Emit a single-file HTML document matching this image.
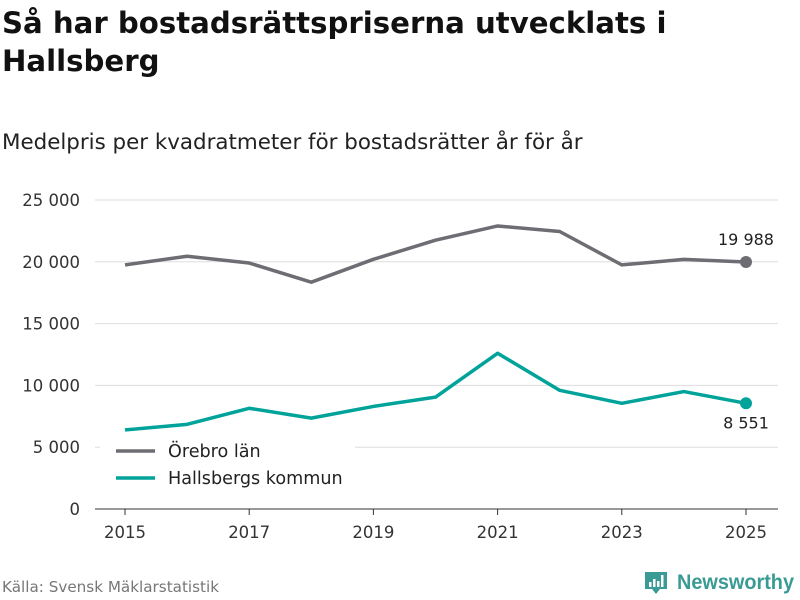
<!DOCTYPE html>
<html><head><meta charset="utf-8"><style>
body{margin:0;width:800px;height:600px;background:#fff;font-family:"DejaVu Sans","Liberation Sans",sans-serif;overflow:hidden;position:relative}
h1{position:absolute;left:2px;top:4px;margin:0;font-size:29.2px;line-height:38px;font-weight:bold;color:#111}
.sub{position:absolute;left:2px;top:130px;font-size:21.4px;color:#222}
.src{position:absolute;left:2px;top:578px;font-size:15.2px;color:#777}
</style></head><body>
<h1>Så har bostadsrättspriserna utvecklats i<br>Hallsberg</h1>
<div class="sub">Medelpris per kvadratmeter för bostadsrätter år för år</div>
<div class="src">Källa: Svensk Mäklarstatistik</div>
<svg width="800" height="600" style="position:absolute;left:0;top:0" id="c">
<g id="logo">
<path d="M645 572h22v17h-7l-4 5-4-5h-7z" fill="#3a9b94"/>
<rect x="649" y="582" width="2.5" height="5" fill="#fff"/><rect x="653" y="579" width="2.5" height="8" fill="#fff"/><rect x="657" y="581" width="2.5" height="6" fill="#fff"/><rect x="661" y="575" width="2.5" height="12" fill="#fff"/>
<text x="677" y="589" font-size="21" font-weight="bold" fill="#3a9b94" textLength="117" lengthAdjust="spacingAndGlyphs" font-family="Liberation Sans,sans-serif">Newsworthy</text>
</g>
</svg>
<script>
const years=[2015,2016,2017,2018,2019,2020,2021,2022,2023,2024,2025];
const orebro=[19750,20450,19900,18350,20200,21750,22900,22450,19750,20200,19988];
const hallsberg=[6400,6850,8150,7350,8300,9050,12600,9600,8550,9500,8551];
const yTicks=[0,5000,10000,15000,20000,25000];
const xTicks=[2015,2017,2019,2021,2023,2025];
const svg=document.getElementById('c');const NS='http://www.w3.org/2000/svg';
const x=v=>125+(v-2015)*62.1, y=v=>509-v*309/25000;
function el(t,a,p){const e=document.createElementNS(NS,t);for(const k in a)e.setAttribute(k,a[k]);(p||svg).appendChild(e);return e;}
const fmt=v=>v>=1000?Math.floor(v/1000)+' '+String(v%1000).padStart(3,'0'):String(v);
yTicks.forEach(v=>{
 const l=el('line',{x1:95,x2:778,y1:y(v),y2:y(v),stroke:v?'#ddd':'#333','stroke-width':1});
 
 
 const t=el('text',{x:80,y:y(v)+6,'text-anchor':'end','font-size':16.5,fill:'#333'});t.textContent=fmt(v);
 
 
});
xTicks.forEach(v=>{
 const k=el('line',{x1:x(v),x2:x(v),y1:509,y2:515,stroke:'#333'});
 
 
 const t=el('text',{x:x(v),y:538,'text-anchor':'middle','font-size':16.5,fill:'#333'});t.textContent=v;
 
 
});
function series(d,c,name,dy){
 const p=el('polyline',{points:d.map((v,i)=>x(years[i])+','+y(v)).join(' '),fill:'none',stroke:c,'stroke-width':3.5,'stroke-linejoin':'round'});
 
 
 const n=d.length-1;
 const ci=el('circle',{cx:x(years[n]),cy:y(d[n]),r:6,fill:c});
 
 
 const t=el('text',{x:x(years[n]),y:y(d[n])+dy,'text-anchor':'middle','font-size':16,fill:'#222'});t.textContent=fmt(d[n]);
 
 
}
series(orebro,'#6e6d74','orebro',-17);
series(hallsberg,'#00a39a','hallsberg',25);
const lg=el('g',{});


el('rect',{x:100,y:436,width:255,height:60,fill:'#fff'},lg);
[['Örebro län','#6e6d74',451],['Hallsbergs kommun','#00a39a',478]].forEach(([n,c,yy])=>{
 const g=el('g',{},lg);
 
 
 el('line',{x1:116,x2:155,y1:yy,y2:yy,stroke:c,'stroke-width':3.5},g);
 const t=el('text',{x:168,y:yy+6,'font-size':17.6,fill:'#222'},g);t.textContent=n;
});
</script>
</body></html>
